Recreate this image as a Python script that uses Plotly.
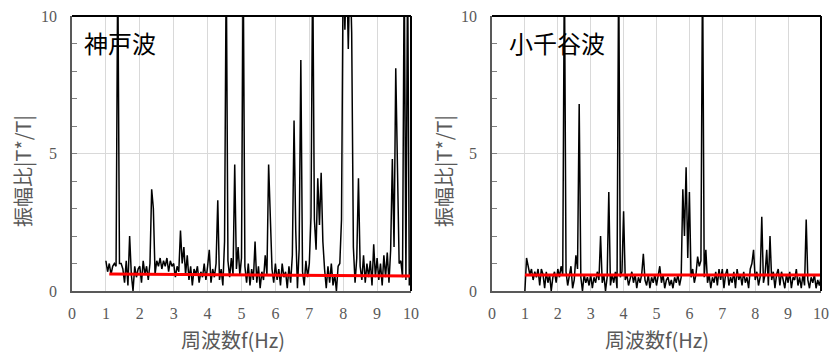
import plotly.graph_objects as go

# frequency grid (Hz), 0.05 Hz step from 1.00 to 10.00
freq = [round(1.0 + 0.05 * i, 2) for i in range(181)]

# 神戸波 amplitude ratio |T*/T|
kobe = [
    1.1, 0.7, 1.0, 0.6, 0.9, 1.0, 0.9, 12, 1.0, 1.0, 0.8, 0.3, 1.1, 0.2, 2.0, 0.6, 0.0, 0.9, 0.5, 0.8,
    0.9, 0.3, 1.1, 0.6, 0.9, 0.4, 1.0, 3.7, 3.0, 0.6, 1.1, 0.9, 1.2, 0.8, 1.1, 0.9, 1.2, 0.7, 1.1, 0.9,
    1.0, 0.5, 0.9, 0.7, 2.2, 1.0, 1.6, 0.6, 1.3, 0.4, 0.9, 0.2, 0.8, 0.6, 0.9, 0.3, 0.7, 0.5, 1.0, 0.4,
    0.9, 1.5, 0.3, 0.8, 0.5, 1.0, 3.3, 0.4, 0.8, 0.2, 1.8, 12, 1.1, 0.5, 1.2, 0.6, 4.6, 0.8, 1.6, 0.6,
    1.2, 12, 0.9, 0.3, 1.0, 0.2, 0.8, 0.4, 1.8, 0.3, 0.9, 0.1, 0.7, 0.4, 1.3, 0.6, 4.6, 2.2, 0.8, 0.3,
    1.0, 0.4, 0.8, 0.2, 1.0, 0.5, 0.7, 0.1, 0.9, 0.3, 1.3, 6.2, 2.2, 0.1, 1.5, 8.4, 0.7, 0.2, 1.1, 0.5,
    1.0, 2.7, 12, 2.6, 1.5, 4.1, 2.4, 4.3, 1.8, 0.8, 0.1, 0.9, 0.3, 1.0, 0.2, 0.6, 0.0, 0.9, 1.0, 2.6,
    12, 9.5, 12, 8.8, 12, 9.4, 1.6, 0.3, 1.2, 4.1, 0.9, 0.4, 1.3, 0.3, 1.0, 0.5, 1.1, 0.2, 1.7, 0.5,
    1.2, 0.4, 1.0, 0.2, 1.3, 0.5, 1.4, 0.3, 1.5, 4.8, 1.6, 8.1, 4.0, 1.0, 1.1, 0.5, 12, 0.4, 12, 0.2,
    0.9,
]

# 小千谷波 amplitude ratio |T*/T|
ojiya = [
    0.0, 1.2, 0.9, 0.6, 0.8, 0.4, 0.7, 0.5, 0.8, 0.2, 0.8, 0.6, 0.1, 0.7, 0.3, 0.6, 0.0, 0.5, 0.7, 0.3,
    0.8, 0.5, 0.9, 0.6, 12, 0.7, 0.2, 0.6, 0.9, 0.1, 0.4, 1.3, 0.8, 6.8, 0.5, 0.0, 0.6, 0.3, 0.5, 0.2,
    0.6, 0.1, 0.5, 0.3, 0.7, 0.4, 2.0, 0.3, 0.6, 0.0, 0.5, 3.6, 0.2, 0.6, 0.3, 0.7, 0.1, 12, 0.5, 0.7,
    2.9, 0.4, 0.6, 0.2, 0.5, 0.7, 0.3, 0.6, 0.1, 0.5, 0.3, 0.6, 1.35, 0.4, 0.2, 0.6, 0.1, 0.5, 0.3, 0.6,
    0.2, 0.5, 0.9, 0.3, 0.6, 0.1, 0.4, 0.5, 0.2, 0.4, 0.1, 0.5, 0.3, 0.6, 0.2, 0.5, 3.7, 2.0, 4.5, 1.2,
    3.6, 0.5, 0.8, 0.3, 0.6, 1.25, 0.9, 1.1, 12, 0.5, 1.5, 0.3, 0.6, 0.1, 0.5, 0.3, 0.7, 0.2, 0.8, 0.4,
    0.8, 0.1, 0.6, 0.8, 0.2, 0.5, 0.3, 0.7, 0.1, 0.8, 0.4, 0.6, 0.2, 0.7, 0.3, 0.5, 0.1, 0.8, 1.0, 1.5,
    0.4, 0.7, 0.2, 0.5, 2.7, 0.3, 0.6, 1.5, 0.2, 2.0, 0.4, 0.7, 0.1, 0.6, 0.8, 0.2, 0.7, 0.4, 0.1, 0.6,
    0.3, 0.7, 0.1, 0.5, 0.4, 0.8, 0.2, 0.5, 0.1, 0.6, 0.2, 2.6, 0.4, 0.1, 0.5, 0.3, 0.6, 0.1, 0.4, 0.2,
    0.5,
]

# red reference lines
kobe_ref_f = [1.1, 10.0]
kobe_ref_v = [0.62, 0.55]
ojiya_ref_f = [1.0, 10.0]
ojiya_ref_v = [0.58, 0.58]

panel_titles = ["神戸波", "小千谷波"]
x_title = "周波数f(Hz)"
y_title = "振幅比|T*/T|"
x_ticks = list(range(0, 11))
y_ticks = [0, 5, 10]

W, H = 833, 354
CJK = "Noto Sans CJK JP"
TICKFONT = dict(family="Liberation Serif", size=16, color="#595959")

fig = go.Figure()
fig.add_trace(go.Scatter(x=freq, y=kobe, mode="lines", line=dict(color="black", width=1.5),
                         xaxis="x", yaxis="y", showlegend=False))
fig.add_trace(go.Scatter(x=kobe_ref_f, y=kobe_ref_v, mode="lines", line=dict(color="#ff0000", width=3),
                         xaxis="x", yaxis="y", showlegend=False))
fig.add_trace(go.Scatter(x=freq, y=ojiya, mode="lines", line=dict(color="black", width=1.5),
                         xaxis="x2", yaxis="y2", showlegend=False))
fig.add_trace(go.Scatter(x=ojiya_ref_f, y=ojiya_ref_v, mode="lines", line=dict(color="#ff0000", width=3),
                         xaxis="x2", yaxis="y2", showlegend=False))

panels = [(72, 411), (492, 821)]
top_px, bot_px = 16, 291
ydom = [1 - bot_px / H, 1 - top_px / H]

def xaxis_cfg(l, r, anchor):
    return dict(domain=[l / W, r / W], range=[0, 10], anchor=anchor, automargin=False,
                tickmode="array", tickvals=x_ticks, ticktext=[str(t) for t in x_ticks],
                showgrid=True, gridcolor="#d9d9d9", gridwidth=1, zeroline=False,
                showline=True, linecolor="#595959", linewidth=1.5, ticks="",
                tickfont=TICKFONT, ticklabelstandoff=7)

def yaxis_cfg(anchor):
    return dict(domain=ydom, range=[0, 10], anchor=anchor, automargin=False,
                tickmode="array", tickvals=y_ticks, ticktext=[str(t) for t in y_ticks],
                showgrid=True, gridcolor="#d9d9d9", gridwidth=1, zeroline=False,
                showline=True, linecolor="#595959", linewidth=1.5,
                ticks="inside", ticklen=5, tickcolor="#808080",
                minor=dict(dtick=1, ticks="inside", ticklen=5, tickcolor="#808080", showgrid=False),
                tickfont=TICKFONT, ticklabelstandoff=10)

fig.update_layout(
    width=W, height=H, margin=dict(l=0, r=0, t=0, b=0, autoexpand=False),
    paper_bgcolor="white", plot_bgcolor="white",
    xaxis=xaxis_cfg(*panels[0], "y"),
    yaxis=yaxis_cfg("x"),
    xaxis2=xaxis_cfg(*panels[1], "y2"),
    yaxis2=yaxis_cfg("x2"),
)

shapes = []
for xr, yr in (("x", "y"), ("x2", "y2")):
    shapes.append(dict(type="line", xref=xr + " domain", yref=yr + " domain", x0=0, x1=1, y0=1, y1=1,
                       line=dict(color="black", width=2)))
    shapes.append(dict(type="line", xref=xr + " domain", yref=yr + " domain", x0=1, x1=1, y0=0, y1=1,
                       line=dict(color="black", width=2)))
fig.update_layout(shapes=shapes)

ann = []
# panel titles
ann.append(dict(text=panel_titles[0], x=82 / W, y=1 - 42 / H, xref="paper", yref="paper",
                xanchor="left", yanchor="middle", showarrow=False,
                font=dict(family=CJK, size=24, color="black")))
ann.append(dict(text=panel_titles[1], x=507 / W, y=1 - 42 / H, xref="paper", yref="paper",
                xanchor="left", yanchor="middle", showarrow=False,
                font=dict(family=CJK, size=24, color="black")))
# axis titles
for cx in (233, 657):
    ann.append(dict(text=x_title, x=cx / W, y=1 - 339 / H, xref="paper", yref="paper",
                    xanchor="center", yanchor="middle", showarrow=False,
                    font=dict(family=CJK, size=20, color="#595959")))
for cx in (22, 443):
    ann.append(dict(text=y_title, x=cx / W, y=1 - 171 / H, xref="paper", yref="paper",
                    xanchor="center", yanchor="middle", showarrow=False, textangle=-90,
                    font=dict(family=CJK, size=20, color="#595959")))
fig.update_layout(annotations=ann)

fig.write_html("out.html", config={"displayModeBar": False},
               post_script="document.body.style.margin='0';document.body.style.overflow='hidden';")
